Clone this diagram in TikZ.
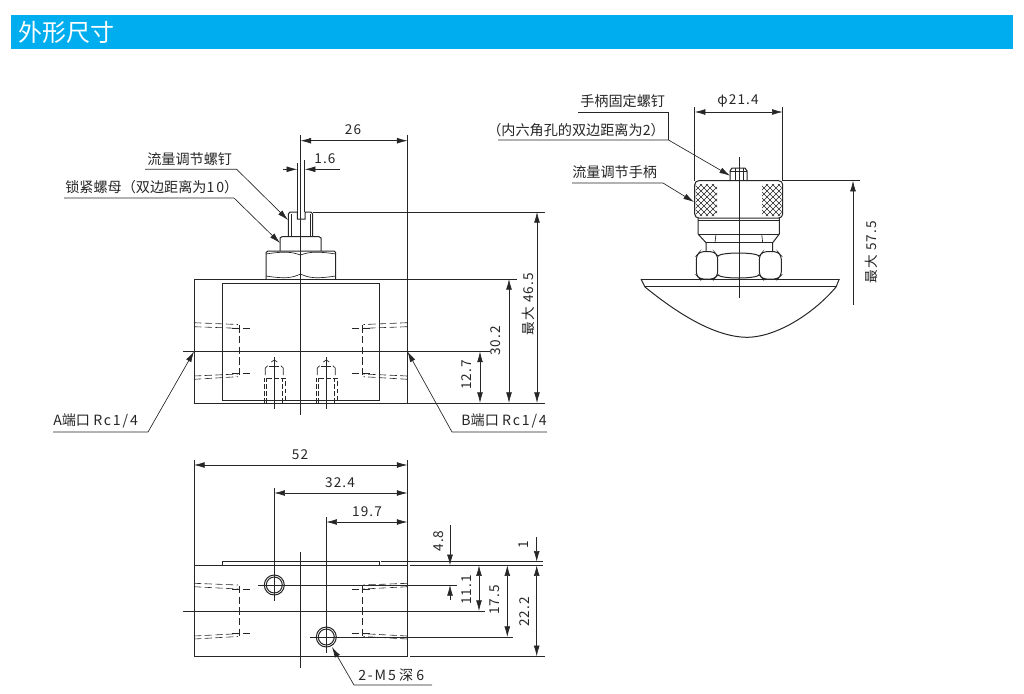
\documentclass[tikz,border=0pt]{standalone}
\usepackage{fontspec}
\setmainfont{Noto Sans CJK SC}
\newfontfamily\numfont[LetterSpace=8]{Noto Sans CJK SC}
\newfontfamily\latfont[LetterSpace=13]{Noto Sans CJK SC}
\usetikzlibrary{arrows.meta, calc}
\definecolor{barblue}{HTML}{00AEEF}
\definecolor{inkgray}{HTML}{262626}
\tikzset{
    outline/.style = {draw = inkgray, line width = 0.75pt},
    thinline/.style = {draw = inkgray, line width = 0.5pt},
    hiddenline/.style = {draw = inkgray, line width = 0.45pt, dash pattern = on 5.5pt off 2.5pt},
    portline/.style = {draw = inkgray, line width = 0.45pt, dash pattern = on 3.5pt off 1.8pt},
    dimline/.style = {thinline, {Latex[length=8pt,width=4.4pt]}-{Latex[length=8pt,width=4.4pt]}},
    tipline/.style = {thinline, -{Latex[length=8pt,width=4.4pt]}},
    lbl/.style = {font = \fontsize{10.6pt}{12pt}\selectfont, text = inkgray, inner sep = 0pt},
    dimlbl/.style = {font = \fontsize{10.2pt}{12pt}\selectfont\numfont, text = inkgray, inner sep = 0pt}
}
\begin{document}
\begin{tikzpicture}[x = 0.75pt, y = -0.75pt]
    \useasboundingbox (0,0) rectangle (1024,693);
    \fill[barblue] (11,15) rectangle (1013,49);
    \node (titlebar) at (18,32) [anchor = west, text = white, inner sep = 0pt, font = \fontsize{18pt}{20pt}\selectfont] {外形尺寸};

    % front view
    \draw[outline] (194,279) rectangle (407.5,403);
    \draw[outline] (222.7,283) rectangle (379,400);
    \draw[thinline] (300.5,135) -- (300.5,415);
    \draw[thinline] (183,351.5) -- (490,351.5);
    \draw[outline] (288.3,236.7) -- (288.3,214) -- (290,212) -- (297.3,212) -- (297.3,219) -- (305,219) -- (305,212) -- (311,212) -- (312.7,214) -- (312.7,236.7);
    \draw[thinline] (291,236.7) -- (291,214) (310,236.7) -- (310,214);
    \draw[outline] (280,251) -- (280,238) -- (282,236.7) -- (319,236.7) -- (321,238) -- (321,251);
    \draw[outline] (266,279) -- (266,252.5) -- (268,251) -- (334,251) -- (335.7,252.5) -- (335.7,279);
    \draw[thinline] (266,254) .. controls (285,251) and (292,252) .. (300.5,255) .. controls (309,252) and (316,251) .. (335.7,254);
    \draw[thinline] (266,276) .. controls (285,279) and (292,278) .. (300.5,274) .. controls (309,278) and (316,279) .. (335.7,276);

    % hidden bores, left and right
    \foreach \ya/\yb/\yc/\yd/\ye/\yf/\yg/\yh/\hup/\hlo in {322.7/324.5/326.7/328.3/376/374/379.3/376.7/328.3/373.3, 583.3/585/586.7/589/636/633.7/639/636.5/589/633} {
        \foreach \ox/\sx in {0/1, 601.5/-1} {
            \begin{scope}[shift = {(\ox,0)}, xscale = \sx]
                \draw[hiddenline] (194,\ya) -- (238,\yb);
                \draw[hiddenline] (194,\yc) -- (238,\yd);
                \draw[hiddenline] (194,\ye) -- (238,\yf);
                \draw[hiddenline] (194,\yg) -- (238,\yh);
                \draw[hiddenline] (232,\hup) -- (252,\hup);
                \draw[hiddenline] (232,\hlo) -- (252,\hlo);
                \draw[hiddenline] (239,\hup-3) -- (239,\hlo+3);
            \end{scope}
        }
    }

    % hidden ports
    \foreach \px in {274.3, 326.3} {
        \draw[thinline] (\px,357) -- (\px,409);
        \draw[thinline] (\px-3,362) -- (\px,360) -- (\px+3,362);
        \draw[thinline] (\px-5,366) -- (\px+5,366);
        \draw[thinline] (\px-9,375) -- (\px-9,368) -- (\px-6.5,365.7);
        \draw[thinline] (\px+9,375) -- (\px+9,368) -- (\px+6.5,365.7);
        \draw[portline] (\px-10.5,403) -- (\px-10.5,378) -- (\px+10.5,378) -- (\px+10.5,403);
        \draw[portline] (\px-8,403) -- (\px-8,378) (\px+8,403) -- (\px+8,378);
    }

    % front view dimensions
    \draw[thinline] (407.5,135) -- (407.5,279);
    \draw[thinline] (297.3,163) -- (297.3,212);
    \draw[thinline] (304.7,160) -- (304.7,212);
    \draw[dimline] (300.5,140.7) -- (407.5,140.7);
    \node (dimtop) at (353,130) [dimlbl] {26};
    \draw[tipline] (283,169.3) -- (297.3,169.3);
    \draw[tipline] (340,169.3) -- (304.7,169.3);
    \node (dimslot) at (325,158.5) [dimlbl] {1.6};
    \draw[thinline] (313,212) -- (545,212);
    \draw[thinline] (408,279) -- (517,279);
    \draw[thinline] (408,403) -- (545,403);
    \draw[dimline] (480,351.5) -- (480,403);
    \node (dimport) at (467,375) [dimlbl, rotate = 90] {12.7};
    \draw[dimline] (509,279) -- (509,403);
    \node (dimbody) at (496,341) [dimlbl, rotate = 90] {30.2};
    \draw[dimline] (537,212) -- (537,403);
    \node (dimall) at (528,304) [dimlbl, rotate = 90] {最大 46.5};

    % front view leaders
    \coordinate (tipscrew) at (288,220);
    \coordinate (tipnut) at (280,243);
    \coordinate (tipa) at (194,351.5);
    \coordinate (tipb) at (407.5,351.5);
    \node (lblscrew) at (147,159.5) [lbl, anchor = west] {流量调节螺钉};
    \node (lblnut) at (65,187) [lbl, anchor = west] {锁紧螺母（双边距离为{\latfont 10}）};
    \node (lbla) at (53,421) [lbl, anchor = west] {{\latfont A}端口 {\latfont Rc1/4}};
    \node (lblb) at (547,421) [lbl, anchor = east] {{\latfont B}端口 {\latfont Rc1/4}};
    \draw[tipline] (145,169.3) -- (236.7,169.3) -- (tipscrew);
    \draw[tipline] (64,198) -- (234,198) -- (tipnut);
    \draw[tipline] (53,432) -- (148,432) -- (tipa);
    \draw[tipline] (547,432) -- (452,432) -- (tipb);

    % bottom view
    \draw[outline] (194,565.3) rectangle (407.5,656.3);
    \draw[outline] (222.7,565.3) -- (222.7,561.7) -- (379,561.7) -- (379,565.3);
    \draw[thinline] (300.5,551.7) -- (300.5,667.7);
    \draw[thinline] (183,611) -- (485,611);
    \draw[outline] (274.3,585) circle (10);
    \draw[outline] (274.3,585) circle (8);
    \draw[outline] (326.3,637) circle (10);
    \draw[outline] (326.3,637) circle (8);
    \draw[thinline] (258,585) -- (457,585);
    \draw[thinline] (310,637) -- (513,637);
    \draw[thinline] (274.3,488) -- (274.3,601);
    \draw[thinline] (326.3,517) -- (326.3,653);

    % bottom view dimensions
    \draw[thinline] (194,460) -- (194,565.3);
    \draw[thinline] (407.5,460) -- (407.5,565.3);
    \draw[dimline] (194,465) -- (407.5,465);
    \node (dimwidth) at (300,454.5) [dimlbl] {52};
    \draw[dimline] (274.3,493) -- (407.5,493);
    \node (dimholea) at (340,483) [dimlbl] {32.4};
    \draw[dimline] (326.3,522) -- (407.5,522);
    \node (dimholeb) at (367,512) [dimlbl] {19.7};
    \draw[thinline] (381,561.7) -- (543,561.7);
    \draw[line width = 0.9pt, draw = inkgray] (410,565.3) -- (543,565.3);
    \draw[thinline] (410,656.3) -- (545,656.3);
    \draw[tipline] (450,525) -- (450,565.3);
    \draw[tipline] (450,600) -- (450,585);
    \node (dimedge) at (439,541) [dimlbl, rotate = 90] {4.8};
    \draw[dimline] (479,565.3) -- (479,611);
    \node (dimmid) at (467,590) [dimlbl, rotate = 90] {11.1};
    \draw[dimline] (507.3,565.3) -- (507.3,637);
    \node (dimlow) at (495,600) [dimlbl, rotate = 90] {17.5};
    \draw[tipline] (536.7,537) -- (536.7,561.7);
    \draw[dimline] (536.7,565.3) -- (536.7,656.3);
    \node (dimplate) at (524,545) [dimlbl, rotate = 90] {1};
    \node (dimdepth) at (525,612) [dimlbl, rotate = 90] {22.2};
    \coordinate (tipmfive) at (332,647);
    \node (lblmfive) at (358,675) [lbl, anchor = west] {{\latfont 2-M5} 深 {\latfont 6}};
    \draw[tipline] (432,685) -- (354,685) -- (tipmfive);

    % side view
    \draw[outline] (730,181) -- (730,171) -- (732,168) -- (745,168) -- (747,171) -- (747,181);
    \draw[thinline] (735,181) -- (735,168) (743,181) -- (743,168) (730,171) -- (747,171);
    \begin{scope}
        \clip (695.5,184) rectangle (717,216) (762,184) rectangle (781.5,216);
        \foreach \k in {-60,-54,...,160} {
            \draw[draw = inkgray, line width = 0.5pt] (690+\k,180) -- (690+\k+40,220);
            \draw[draw = inkgray, line width = 0.5pt] (690+\k+40,180) -- (690+\k,220);
        }
    \end{scope}
    \draw[outline, rounded corners = 3pt] (694.7,180.7) rectangle (782.7,218);
    \draw[outline] (698,218) -- (698,234) -- (706,242.7) -- (706,251.7);
    \draw[outline] (779.3,218) -- (779.3,234) -- (772.7,242.7) -- (772.7,251.7);
    \draw[thinline] (698,220.7) -- (779.3,220.7);
    \draw[outline] (698,234) -- (779.3,234);
    \draw[thinline] (706,242.7) -- (772.7,242.7);
    \draw[thinline] (716,234) -- (715,242.7) (761.7,234) -- (762.7,242.7);
    \draw[outline, rounded corners = 2.5pt] (696.3,256) -- (700,251.7) -- (714,251.7) -- (717.7,256) -- (717.7,275) -- (714,279) -- (700,279) -- (696.3,275) -- cycle;
    \draw[outline, rounded corners = 2.5pt] (781.3,256) -- (777.6,251.7) -- (763,251.7) -- (759.3,256) -- (759.3,275) -- (763,279) -- (777.6,279) -- (781.3,275) -- cycle;
    \draw[outline] (717.7,256) .. controls (722,252) and (755,252) .. (759.3,256);
    \draw[outline] (717.7,275) .. controls (722,279) and (755,279) .. (759.3,275);
    \draw[outline] (641,279) -- (839.3,279);
    \draw[thinline] (645,286.7) -- (836,286.7);
    \draw[outline] (641,279) -- (645,287) .. controls (672,309) and (712,337) .. (747,337.3) .. controls (778,337) and (815,312) .. (836,287) -- (839.3,279);
    \draw[thinline] (739,157) -- (739,298);

    % side view dimensions
    \draw[thinline] (694.7,107) -- (694.7,180.7);
    \draw[thinline] (782.7,107) -- (782.7,180.7);
    \draw[dimline] (694.7,112) -- (782.7,112);
    \node (dimknob) at (738,100.5) [dimlbl] {φ21.4};
    \draw[thinline] (782.7,180.7) -- (860,180.7);
    \draw[tipline] (853,305) -- (853,180.7);
    \node (dimheight) at (871.5,252) [dimlbl, rotate = 90] {最大 57.5};

    % side view leaders
    \coordinate (tippin) at (730,175.7);
    \coordinate (tipknob) at (694,202);
    \node (lblfix) at (580,101) [lbl, anchor = west] {手柄固定螺钉};
    \node (lblhex) at (665,130) [lbl, anchor = east] {（内六角孔的双边距离为{\latfont 2}）};
    \node (lblknob) at (572,172) [lbl, anchor = west] {流量调节手柄};
    \draw[thinline] (578,112) -- (668.5,112) -- (668.5,140);
    \draw[tipline] (498,140) -- (668.5,140) -- (tippin);
    \draw[tipline] (572,183) -- (663,183) -- (tipknob);
\end{tikzpicture}
\end{document}
